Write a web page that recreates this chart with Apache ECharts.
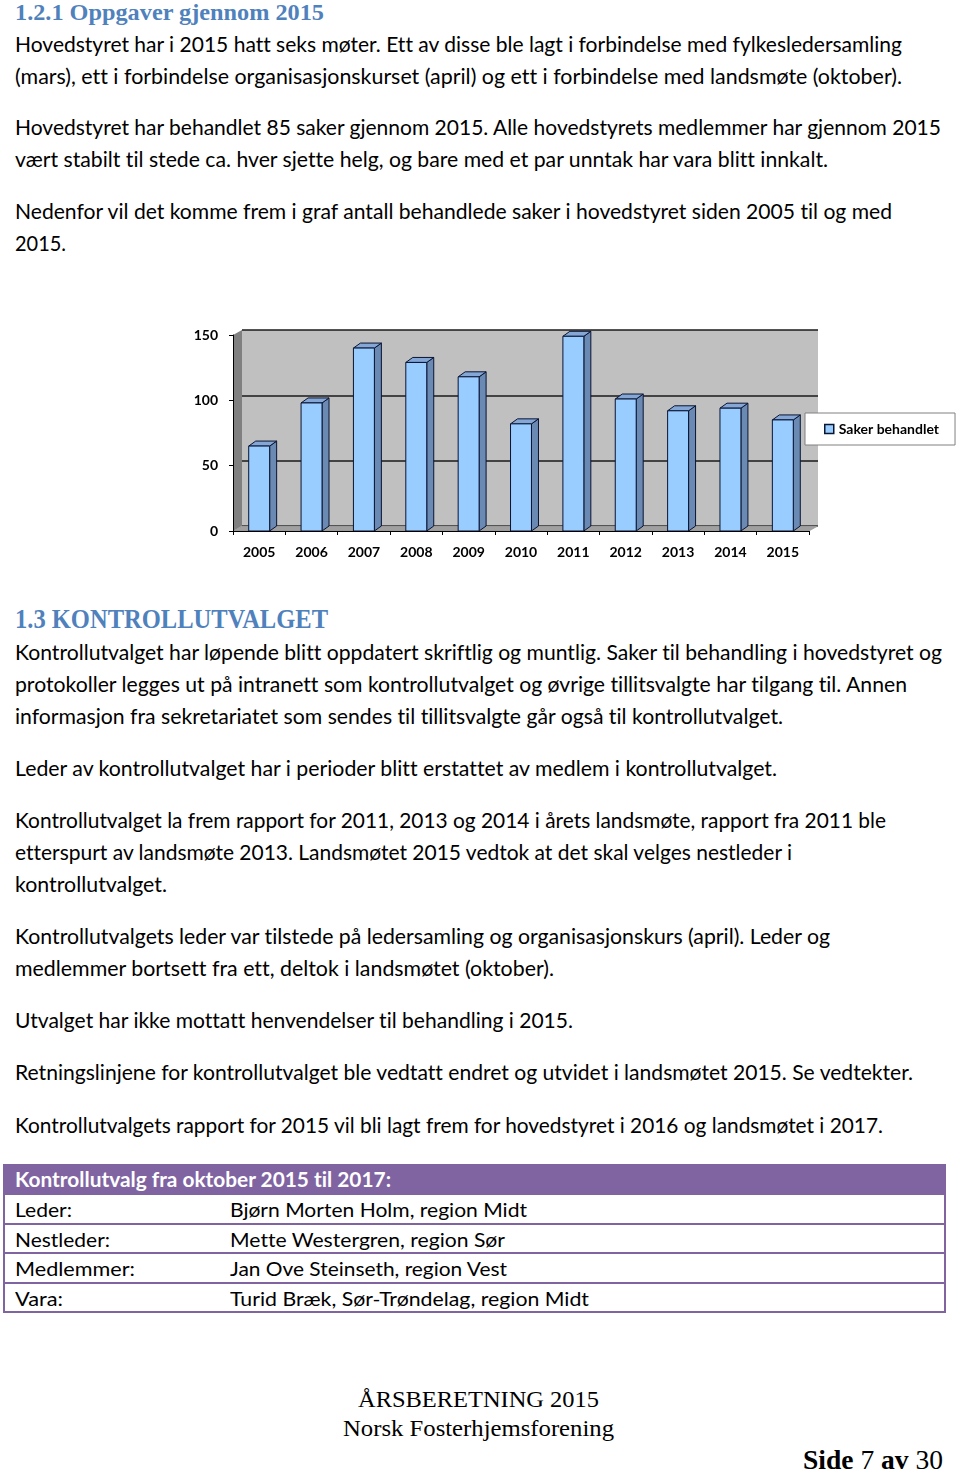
<!DOCTYPE html>
<html><head><meta charset="utf-8">
<script src="https://cdn.jsdelivr.net/npm/echarts@6/dist/echarts.min.js"></script>
<style>
html,body{margin:0;padding:0;background:#fff;}
body{width:960px;height:1473px;position:relative;overflow:hidden;}
.ln{position:absolute;white-space:nowrap;font-family:Lato,'Open Sans',sans-serif;font-size:21px;line-height:26px;height:26px;color:#000;transform-origin:0 50%;font-variant-ligatures:none;font-feature-settings:"liga" 0,"clig" 0;}
.h1{font-family:'Liberation Serif',serif;font-weight:bold;color:#4F81BD;font-size:23px;}
.h2{font-family:'Liberation Serif',serif;font-weight:bold;color:#4F81BD;font-size:28px;line-height:32px;height:32px;}
.th{color:#fff;font-weight:bold;font-size:20px;}
.td{font-size:20px;}
.ft{font-family:'Liberation Serif','Times New Roman',serif;font-size:24px;}
.pg{font-family:'Liberation Serif','Times New Roman',serif;font-size:27px;line-height:30px;height:30px;}
.box{position:absolute;}
#chart{position:absolute;left:0;top:310px;width:960px;height:270px;}
</style></head>
<body>
<div id="page"></div>
<div id="chart"></div>
<script>
// ---- chart data ----
const years = ['2005','2006','2007','2008','2009','2010','2011','2012','2013','2014','2015'];
const saker = [65, 98, 140, 129, 118, 82, 149, 101, 92, 94, 85];
const seriesName = 'Saker behandlet';
const yMin = 0, yMax = 150, yStep = 50;

// ---- page text: [text, left, yCenter, rightEdge, class] ----
const lines = [
 ['1.2.1 Oppgaver gjennom 2015', 15, 13, 324, 'h1'],
 ['Hovedstyret har i 2015 hatt seks møter. Ett av disse ble lagt i forbindelse med fylkesledersamling', 15, 44, 902, ''],
 ['(mars), ett i forbindelse organisasjonskurset (april) og ett i forbindelse med landsmøte (oktober).', 15, 76, 902, ''],
 ['Hovedstyret har behandlet 85 saker gjennom 2015. Alle hovedstyrets medlemmer har gjennom 2015', 15, 127, 941, ''],
 ['vært stabilt til stede ca. hver sjette helg, og bare med et par unntak har vara blitt innkalt.', 15, 159, 828, ''],
 ['Nedenfor vil det komme frem i graf antall behandlede saker i hovedstyret siden 2005 til og med', 15, 211, 892, ''],
 ['2015.', 15, 243, 66, ''],
 ['1.3 KONTROLLUTVALGET', 15, 619, 328, 'h2'],
 ['Kontrollutvalget har løpende blitt oppdatert skriftlig og muntlig. Saker til behandling i hovedstyret og', 15, 652, 942, ''],
 ['protokoller legges ut på intranett som kontrollutvalget og øvrige tillitsvalgte har tilgang til. Annen', 15, 684, 907, ''],
 ['informasjon fra sekretariatet som sendes til tillitsvalgte går også til kontrollutvalget.', 15, 716, 783, ''],
 ['Leder av kontrollutvalget har i perioder blitt erstattet av medlem i kontrollutvalget.', 15, 768, 777, ''],
 ['Kontrollutvalget la frem rapport for 2011, 2013 og 2014 i årets landsmøte, rapport fra 2011 ble', 15, 820, 886, ''],
 ['etterspurt av landsmøte 2013. Landsmøtet 2015 vedtok at det skal velges nestleder i', 15, 852, 792, ''],
 ['kontrollutvalget.', 15, 884, 167, ''],
 ['Kontrollutvalgets leder var tilstede på ledersamling og organisasjonskurs (april). Leder og', 15, 936, 830, ''],
 ['medlemmer bortsett fra ett, deltok i landsmøtet (oktober).', 15, 968, 554, ''],
 ['Utvalget har ikke mottatt henvendelser til behandling i 2015.', 15, 1020, 573, ''],
 ['Retningslinjene for kontrollutvalget ble vedtatt endret og utvidet i landsmøtet 2015. Se vedtekter.', 15, 1072, 913, ''],
 ['Kontrollutvalgets rapport for 2015 vil bli lagt frem for hovedstyret i 2016 og landsmøtet i 2017.', 15, 1125, 883, ''],
 ['Kontrollutvalg fra oktober 2015 til 2017:', 15, 1179, 391, 'th'],
 ['Leder:', 15, 1209, 72, 'td'],
 ['Bjørn Morten Holm, region Midt', 230, 1209, 527, 'td'],
 ['Nestleder:', 15, 1239, 110, 'td'],
 ['Mette Westergren, region Sør', 230, 1239, 505, 'td'],
 ['Medlemmer:', 15, 1268, 135, 'td'],
 ['Jan Ove Steinseth, region Vest', 230, 1268, 507, 'td'],
 ['Vara:', 15, 1298, 63, 'td'],
 ['Turid Bræk, Sør-Trøndelag, region Midt', 230, 1298, 589, 'td'],
 ['ÅRSBERETNING 2015', 358, 1399, 599, 'ft'],
 ['Norsk Fosterhjemsforening', 343, 1428, 614, 'ft']
];

const page = document.getElementById('page');
function addBox(l,t,w,h,bg){const d=document.createElement('div');d.className='box';d.style.cssText=`left:${l}px;top:${t}px;width:${w}px;height:${h}px;background:${bg}`;page.appendChild(d);}
// table
const purple = '#8064A2';
addBox(3,1164,943,30,purple);
[1193,1223,1252,1282,1311].forEach(y=>addBox(3,y,943,2,purple));
addBox(3,1164,2,149,purple);
addBox(944,1164,2,149,purple);

const els = [];
lines.forEach(([txt,l,yc,r,cls])=>{
  const d=document.createElement('div');
  d.className='ln '+cls;
  d.textContent=txt;
  const lh = cls==='h2'?32:26;
  d.style.left=l+'px'; d.style.top=(yc-lh/2)+'px';
  d.dataset.l=l; d.dataset.r=r;
  page.appendChild(d); els.push(d);
});
// page number
const pg=document.createElement('div');
pg.className='ln pg';
pg.innerHTML='<b>Side</b> 7 <b>av</b> 30';
pg.style.left='803px'; pg.style.top=(1460-15)+'px';
pg.dataset.l=803; pg.dataset.r=943;
page.appendChild(pg); els.push(pg);

function fit(){
  els.forEach(d=>{
    d.style.transform='';
    const w=d.getBoundingClientRect().width;
    const target=(+d.dataset.r)-(+d.dataset.l);
    if(w>0) d.style.transform=`scaleX(${target/w})`;
  });
}
fit();
if(document.fonts&&document.fonts.ready) document.fonts.ready.then(fit);

// ---- chart ----
const BDX = 7, BDY = -5;   // bar depth
const WDX = 9, WDY = -5;   // wall depth
const lblFont = {fontFamily:'Lato, "Open Sans", sans-serif', fontWeight:'bold', fontSize:14, color:'#000'};
const chart = echarts.init(document.getElementById('chart'), null, {renderer:'canvas'});
const option = {
  animation:false,
  grid:[
    {left:233, top:25, width:576, height:196},
    {left:233+WDX, top:25+WDY, width:576, height:196, show:true, backgroundColor:'#C0C0C0', borderWidth:0}
  ],
  xAxis:[
    {type:'category', gridIndex:0, data:years, z:10,
     axisLine:{show:true, lineStyle:{color:'#000', width:1}},
     axisTick:{show:true, length:4, lineStyle:{color:'#000'}},
     axisLabel:Object.assign({margin:14}, lblFont), splitLine:{show:false}},
    {type:'category', gridIndex:1, data:years, show:false}
  ],
  yAxis:[
    {type:'value', gridIndex:0, min:yMin, max:yMax, interval:yStep, z:10,
     axisLine:{show:true, lineStyle:{color:'#000', width:1}},
     axisTick:{show:true, length:4, lineStyle:{color:'#000'}},
     axisLabel:Object.assign({margin:15}, lblFont), splitLine:{show:false}},
    {type:'value', gridIndex:1, min:yMin, max:yMax, interval:yStep,
     axisLine:{show:false}, axisTick:{show:false}, axisLabel:{show:false},
     splitLine:{show:true, lineStyle:{color:'#1a1a1a', width:1.5}}}
  ],
  legend:{
    data:[seriesName], left:805, top:103, orient:'vertical',
    backgroundColor:'#fff', borderColor:'#808080', borderWidth:1, borderRadius:0,
    padding:[9,16,9,19], itemWidth:9, itemHeight:9, icon:'rect',
    itemStyle:{color:'#99CCFF', borderColor:'#0A1433', borderWidth:1.5},
    textStyle:{fontFamily:'Lato, "Open Sans", sans-serif', fontWeight:'bold', fontSize:14, color:'#000'}
  },
  series:[
    {type:'custom', name:'walls', xAxisIndex:0, yAxisIndex:0, silent:true, z:1,
     data:[[0,0]],
     renderItem:function(params, api){
       const cs=params.coordSys; const x=cs.x, y=cs.y, w=cs.width, h=cs.height;
       return {type:'group', children:[
         {type:'polygon', shape:{points:[[x,y],[x+WDX,y+WDY],[x+WDX,y+h+WDY],[x,y+h]]}, style:{fill:'#808080'}},
         {type:'polygon', shape:{points:[[x,y+h],[x+WDX,y+h+WDY],[x+w+WDX,y+h+WDY],[x+w,y+h]]}, style:{fill:'#A0A0A0', stroke:'#8a8a8a', lineWidth:0.5}}
       ]};
     }},
    {type:'custom', name:seriesName, xAxisIndex:0, yAxisIndex:0, z:3,
     itemStyle:{color:'#99CCFF'},
     data:saker.map((v,i)=>[i,v]), encode:{x:0, y:1},
     renderItem:function(params, api){
       const i=api.value(0), v=api.value(1);
       const t=api.coord([i,v]), b=api.coord([i,0]);
       const bw=api.size([1,0])[0]*0.4;
       const x0=t[0]-bw/2, x1=t[0]+bw/2;
       const st={stroke:'#0A1433', lineWidth:1};
       return {type:'group', children:[
         {type:'polygon', shape:{points:[[x1,t[1]],[x1+BDX,t[1]+BDY],[x1+BDX,b[1]+BDY],[x1,b[1]]]}, style:Object.assign({fill:'#6A89B3'}, st)},
         {type:'polygon', shape:{points:[[x0,t[1]],[x0+BDX,t[1]+BDY],[x1+BDX,t[1]+BDY],[x1,t[1]]]}, style:Object.assign({fill:'#84A7D6'}, st)},
         {type:'rect', shape:{x:x0, y:t[1], width:bw, height:b[1]-t[1]}, style:Object.assign({fill:'#99CCFF'}, st)}
       ]};
     }}
  ]
};
chart.setOption(option);
</script>
</body></html>
